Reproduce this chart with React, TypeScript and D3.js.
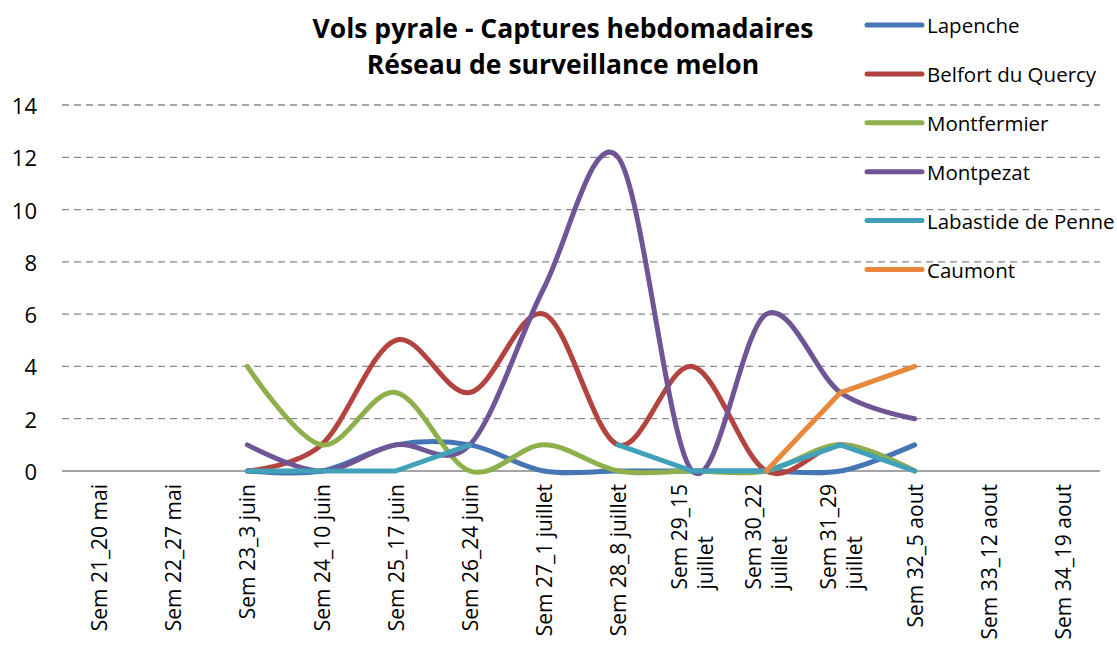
import React, { useEffect, useRef } from "react";
import * as d3 from "d3";

const categories = [
  "Sem 21_20 mai",
  "Sem 22_27 mai",
  "Sem 23_3 juin",
  "Sem 24_10 juin",
  "Sem 25_17 juin",
  "Sem 26_24 juin",
  "Sem 27_1 juillet",
  "Sem 28_8 juillet",
  "Sem 29_15\njuillet",
  "Sem 30_22\njuillet",
  "Sem 31_29\njuillet",
  "Sem 32_5 aout",
  "Sem 33_12 aout",
  "Sem 34_19 aout",
];

const seriesNames = ["Lapenche", "Belfort du Quercy", "Montfermier", "Montpezat", "Labastide de Penne", "Caumont"];
const lapenche = [null, null, 0, 0, 1, 1, 0, 0, 0, 0, 0, 1, null, null];
const belfort = [null, null, 0, 1, 5, 3, 6, 1, 4, 0, 1, 0, null, null];
const montfermier = [null, null, 4, 1, 3, 0, 1, 0, 0, 0, 1, 0, null, null];
const montpezat = [null, null, 1, 0, 1, 1, 7, 12, 0, 6, 3, 2, null, null];
const labastide = [null, null, 0, 0, 0, 1, null, 1, 0, 0, 1, 0, null, null];
const caumont = [null, null, null, null, null, null, null, null, null, 0, 3, 4, null, null];
const seriesValues = [lapenche, belfort, montfermier, montpezat, labastide, caumont];
const smoothed = [true, true, true, true, false, false];
const colors = ["#4675B5", "#B3433F", "#8DB04D", "#6F5595", "#41A0BA", "#E8883A"];
const yTicks = [0, 2, 4, 6, 8, 10, 12, 14];
const titleLines = ["Vols pyrale - Captures hebdomadaires", "Réseau de surveillance melon"];

const W = 1117;
const H = 646;
const FONT = "'Open Sans', 'Noto Sans', sans-serif";

export default function App() {
  const ref = useRef<SVGSVGElement | null>(null);

  useEffect(() => {
    const svg = d3.select(ref.current);
    svg.selectAll("*").remove();

    const left = 62, right = 1100, top = 105, bottom = 471;
    const x = d3.scaleBand<string>().domain(categories).range([left, right]);
    const y = d3.scaleLinear().domain([0, 14]).range([bottom, top]);
    const cx = (i: number) => (x(categories[i]) as number) + x.bandwidth() / 2;

    // gridlines
    svg.append("g")
      .selectAll("line")
      .data(yTicks.filter((t) => t !== 0))
      .join("line")
      .attr("x1", left).attr("x2", right)
      .attr("y1", (d) => y(d)).attr("y2", (d) => y(d))
      .attr("stroke", "#8a8a8a").attr("stroke-width", 1.3)
      .attr("stroke-dasharray", "7,5");

    // axis line
    svg.append("line")
      .attr("x1", left).attr("x2", right)
      .attr("y1", y(0)).attr("y2", y(0))
      .attr("stroke", "#868686").attr("stroke-width", 1.5);

    // y labels
    svg.append("g")
      .selectAll("text")
      .data(yTicks)
      .join("text")
      .attr("x", 37).attr("y", (d) => y(d))
      .attr("text-anchor", "end").attr("dominant-baseline", "central")
      .attr("font-family", FONT).attr("font-size", 22).attr("fill", "#000")
      .text((d) => String(d));

    // x labels
    const lineGap = 26;
    categories.forEach((cat, i) => {
      const lines = cat.split("\n");
      const g = svg.append("g");
      const n = lines.length;
      const texts = lines.map((ln) =>
        g.append("text")
          .attr("font-family", FONT).attr("font-size", 21).attr("fill", "#000")
          .attr("dominant-baseline", "central")
          .text(ln)
      );
      const lens = texts.map((t) => (t.node() as SVGTextElement).getComputedTextLength());
      const maxLen = Math.max(...lens);
      const startY = 484 + maxLen;
      texts.forEach((t, j) => {
        const xx = cx(i) + (j - (n - 1) / 2) * lineGap;
        t.attr("text-anchor", "start")
          .attr("transform", `translate(${xx},${startY}) rotate(-90)`);
      });
    });

    // series
    seriesValues.forEach((vals, si) => {
      const pts = vals.map((v, i) => ({ i, v }));
      const line = d3.line<{ i: number; v: number | null }>()
        .defined((d) => d.v !== null)
        .x((d) => cx(d.i))
        .y((d) => y(d.v as number))
        .curve(smoothed[si] ? d3.curveCardinal.tension(0) : d3.curveLinear);
      svg.append("path")
        .attr("d", line(pts) as string)
        .attr("fill", "none")
        .attr("stroke", colors[si])
        .attr("stroke-width", 5)
        .attr("stroke-linecap", "round")
        .attr("stroke-linejoin", "round");
    });

    // legend
    const lg = svg.append("g");
    seriesNames.forEach((name, si) => {
      const ly = 25 + si * 48.9;
      lg.append("line")
        .attr("x1", 867).attr("x2", 922).attr("y1", ly).attr("y2", ly)
        .attr("stroke", colors[si]).attr("stroke-width", 5).attr("stroke-linecap", "round");
      lg.append("text")
        .attr("x", 927).attr("y", ly)
        .attr("dominant-baseline", "central")
        .attr("font-family", FONT).attr("font-size", 20.5).attr("fill", "#000")
        .text(name);
    });

    // title
    svg.append("g")
      .selectAll("text")
      .data(titleLines)
      .join("text")
      .attr("x", 563).attr("y", (d, i) => 28 + i * 36)
      .attr("text-anchor", "middle").attr("dominant-baseline", "central")
      .attr("font-family", FONT).attr("font-weight", "bold").attr("font-size", 26.5).attr("fill", "#000")
      .text((d) => d);
  }, []);

  return (
    <svg
      ref={ref}
      width={W}
      height={H}
      style={{ position: "absolute", left: 0, top: 0, background: "#fff" }}
    />
  );
}
